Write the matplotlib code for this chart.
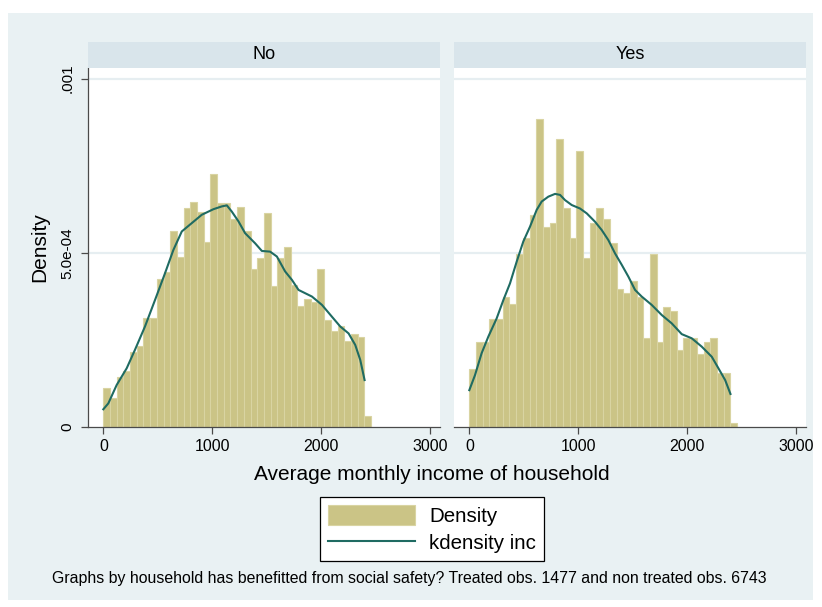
import matplotlib
matplotlib.use("Agg")
import matplotlib.pyplot as plt
import matplotlib.patches as mpatches
from matplotlib.lines import Line2D
import numpy as np

plt.rcParams['font.family'] = ['Liberation Sans', 'DejaVu Sans']

W, H = 822, 607

# histogram: 40 bins of width 61.5 starting at 0
BIN_START = 0.0
BIN_WIDTH = 61.5
no_density = [1.106, 0.827, 1.44, 1.59, 2.14, 2.31, 3.13, 3.11, 4.23, 4.45,
              5.63, 4.87, 6.27, 6.46, 6.18, 5.32, 7.27, 6.42, 6.42, 5.96,
              6.30, 5.61, 4.52, 4.85, 6.13, 4.04, 4.84, 5.17, 4.07, 3.48,
              3.67, 3.59, 4.54, 3.08, 2.75, 2.89, 2.46, 2.67, 2.58, 0.32]
yes_density = [1.65, 2.42, 2.42, 3.09, 3.09, 3.74, 3.52, 4.95, 5.41, 6.08,
               8.83, 5.75, 5.84, 8.27, 6.27, 5.41, 7.93, 4.85, 5.84, 6.27,
               5.96, 5.29, 3.96, 3.85, 4.19, 3.74, 2.54, 4.95, 2.42, 3.43,
               3.32, 2.20, 2.54, 2.54, 2.09, 2.42, 2.54, 1.53, 1.53, 0.12]

# kernel density curves (income, density x1e-4)
no_kde_x = [0, 46, 123, 215, 291, 383, 475, 567, 644, 721, 813, 905, 1012,
            1089, 1135, 1181, 1242, 1303, 1395, 1457, 1533, 1595, 1671, 1733,
            1794, 1917, 2009, 2101, 2177, 2254, 2315, 2361, 2401]
no_kde_y = [0.50, 0.67, 1.20, 1.68, 2.21, 2.88, 3.64, 4.41, 5.08, 5.61, 5.85,
            6.09, 6.25, 6.33, 6.36, 6.18, 5.90, 5.56, 5.27, 5.05, 5.03, 4.89,
            4.46, 4.22, 3.93, 3.74, 3.50, 3.16, 2.88, 2.68, 2.35, 1.92, 1.34]
yes_kde_x = [0, 52, 113, 175, 251, 313, 374, 435, 496, 558, 619, 665, 726,
             788, 834, 880, 941, 1017, 1079, 1155, 1217, 1278, 1339, 1401,
             1462, 1523, 1584, 1676, 1768, 1860, 1952, 2044, 2136, 2228, 2289,
             2351, 2400]
yes_kde_y = [1.05, 1.48, 2.11, 2.59, 3.11, 3.64, 4.12, 4.74, 5.32, 5.75, 6.23,
             6.47, 6.61, 6.69, 6.66, 6.51, 6.37, 6.27, 6.13, 5.89, 5.65, 5.36,
             4.98, 4.65, 4.31, 3.93, 3.74, 3.50, 3.21, 2.97, 2.66, 2.54, 2.30,
             2.01, 1.68, 1.34, 0.94]

panel_titles = ["No", "Yes"]
x_ticks = [0, 1000, 2000, 3000]
y_ticks = [0, 0.0005, 0.001]
y_tick_labels = ["0", "5.0e-04", ".001"]

BG = '#E9F1F3'
STRIP = '#D9E5EB'
GRID = '#E6EEF1'
BAR = '#CBC486'
BAR_EDGE = '#D9D4A2'
LINE = '#1F6B62'
AXIS = '#4A4A4A'


def px_axes(fig, x0, y0, x1, y1, **kw):
    return fig.add_axes([x0 / W, 1 - y1 / H, (x1 - x0) / W, (y1 - y0) / H], **kw)


fig = plt.figure(figsize=(W / 100, H / 100), dpi=100, facecolor='white')

# light graph-region background behind everything
bg = px_axes(fig, 8, 13, 813, 600, zorder=-10)
bg.set_facecolor(BG)
bg.set_xticks([])
bg.set_yticks([])
for s in bg.spines.values():
    s.set_visible(False)

edges = BIN_START + BIN_WIDTH * np.arange(len(no_density))
panels = [(88.3, 440.0, no_density, no_kde_x, no_kde_y),
          (454.3, 806.0, yes_density, yes_kde_x, yes_kde_y)]

for i, (x0, x1, dens, kx, ky) in enumerate(panels):
    ax = px_axes(fig, x0, 68, x1, 426.7)
    ax.set_facecolor('white')
    ax.bar(edges, np.array(dens) * 1e-4, width=BIN_WIDTH, align='edge',
           color=BAR, edgecolor=BAR_EDGE, linewidth=0.8, zorder=2)
    ax.plot(kx, np.array(ky) * 1e-4, color=LINE, linewidth=1.5, zorder=3)
    ax.set_xlim(-138, 3094)
    ax.set_ylim(0, 0.0010307)
    for g in y_ticks[1:]:
        ax.axhline(g, color=GRID, linewidth=1.6, zorder=1)
    ax.set_xticks(x_ticks)
    ax.set_xticklabels([str(t) for t in x_ticks], fontsize=11.5)
    ax.tick_params(axis='x', direction='out', length=5, width=0.9,
                   color=AXIS, pad=4)
    for s in ['top', 'right']:
        ax.spines[s].set_visible(False)
    ax.spines['bottom'].set_color(AXIS)
    ax.spines['bottom'].set_linewidth(0.9)
    if i == 0:
        ax.set_yticks(y_ticks)
        ax.set_yticklabels(y_tick_labels, fontsize=11, rotation=90,
                           va='center')
        ax.tick_params(axis='y', direction='out', length=5, width=0.9,
                       color=AXIS, pad=5)
        ax.spines['left'].set_color(AXIS)
        ax.spines['left'].set_linewidth(0.9)
        ax.set_ylabel("Density", fontsize=15, labelpad=8)
    else:
        ax.set_yticks([])
        ax.spines['left'].set_visible(False)

    strip = px_axes(fig, x0, 42, x1, 67.5)
    strip.set_facecolor(STRIP)
    strip.set_xticks([])
    strip.set_yticks([])
    for s in strip.spines.values():
        s.set_visible(False)
    strip.text(0.5, 0.5, panel_titles[i], ha='center', va='center',
               fontsize=13, transform=strip.transAxes)

fig.text(432 / W, 1 - 475 / H, "Average monthly income of household",
         ha='center', va='center', fontsize=15)

handles = [mpatches.Patch(facecolor=BAR, edgecolor=BAR_EDGE, linewidth=0.8),
           Line2D([], [], color=LINE, linewidth=1.5)]
leg = fig.legend(handles, ["Density", "kdensity inc"], loc='center',
                 bbox_to_anchor=(432 / W, 1 - 529 / H), fontsize=14.8,
                 frameon=True, fancybox=False, framealpha=1, handlelength=4.2,
                 handleheight=1.1, handletextpad=0.7, borderpad=0.4,
                 labelspacing=0.3)
leg.get_frame().set_edgecolor('black')
leg.get_frame().set_facecolor('white')
leg.get_frame().set_linewidth(0.9)

fig.text(409 / W, 1 - 578 / H,
         "Graphs by household has benefitted from social safety? "
         "Treated obs. 1477 and non treated obs. 6743",
         ha='center', va='center', fontsize=11.4)

fig.savefig("out.png", dpi=100, facecolor='white')
